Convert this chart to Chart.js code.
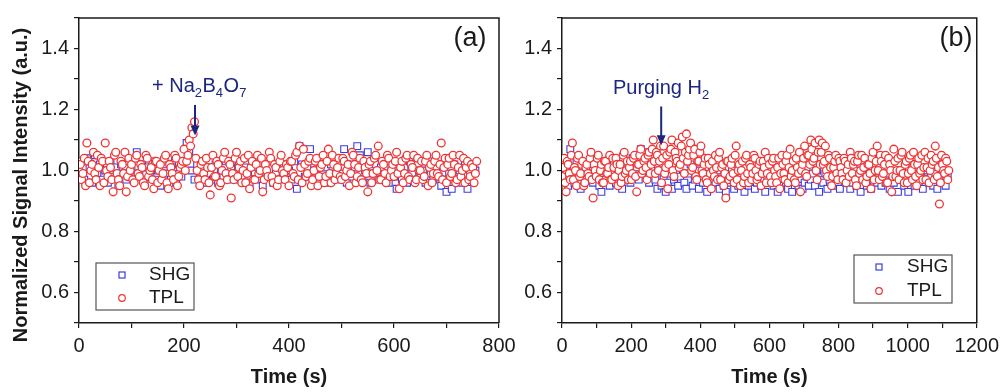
<!DOCTYPE html>
<html>
<head>
<meta charset="utf-8">
<script src="https://cdn.jsdelivr.net/npm/chart.js@4.4.1/dist/chart.umd.min.js"></script>
<style>
  body { margin: 0; background: #fff; }
  #wrap { position: relative; width: 1005px; height: 392px; }
  canvas { position: absolute; top: 0; }
  #chart-a { left: 0; }
  #chart-b { left: 500px; }
</style>
</head>
<body>
<div id="wrap">
  <canvas id="chart-a" width="530" height="392"></canvas>
  <canvas id="chart-b" width="505" height="392"></canvas>
</div>
<script>
// sampling interval (s) of each run; TPL has a second read half a step later
const stepA = 5;
const stepB = 6;

// panel (a): + Na2B4O7
const tplA = [
  1.00,0.97,1.04,1.09,0.96,1.02,0.99,1.05,0.95,1.03,1.09,0.98,1.01,0.93,1.06,0.97,1.03,0.99,0.93,1.04,
  1.02,0.96,1.05,0.98,1.01,0.95,1.04,1.00,0.97,1.03,0.96,1.02,0.99,1.05,0.94,1.01,0.97,1.04,0.98,1.02,
  1.07,1.03,1.10,1.14,1.16,1.00,0.95,1.03,0.97,1.01,0.92,1.05,0.98,1.02,0.96,1.04,0.99,1.03,0.91,0.97,
  1.06,1.01,0.96,1.04,0.99,0.94,1.03,0.97,1.05,1.00,0.93,1.02,0.98,1.04,0.96,1.01,0.97,1.05,0.99,1.02,
  0.95,1.03,0.98,1.06,1.08,0.96,1.02,0.99,1.04,0.97,1.03,0.95,1.01,1.05,0.98,1.07,0.96,1.02,0.99,1.04,
  0.97,1.03,1.00,0.95,1.06,1.02,0.98,1.04,0.96,1.01,0.93,1.03,0.99,1.05,1.08,0.97,1.02,0.96,1.04,1.00,
  0.98,1.06,0.94,1.03,0.99,1.05,0.97,1.01,0.96,1.04,1.00,0.97,1.03,0.95,1.02,0.99,1.05,0.98,1.09,1.01,
  0.96,1.04,0.99,1.02,0.97,1.05,1.00,0.96,1.03,0.98,1.01,0.99
];
const tplA2 = [
  1.02,0.99,0.95,1.03,1.00,1.06,0.97,1.01,1.04,0.96,1.00,1.03,0.97,1.05,0.99,0.95,1.02,1.06,0.98,1.00,
  0.97,1.04,0.99,1.02,0.96,1.05,0.98,1.01,0.94,1.03,1.00,0.97,1.04,0.96,1.02,0.99,1.05,0.95,1.01,1.03,
  1.00,1.05,1.08,1.12,1.04,0.97,1.02,0.99,1.04,0.96,1.01,0.98,1.03,0.95,1.00,1.06,0.97,1.02,0.99,1.04,
  0.98,1.03,1.00,0.96,1.05,1.01,0.97,1.02,0.99,1.04,0.97,1.00,1.06,0.98,1.02,0.95,1.03,1.00,0.97,1.01,
  1.03,0.99,1.05,0.97,1.01,1.07,0.98,1.03,0.95,1.00,1.04,0.98,1.02,0.96,1.03,0.99,1.05,0.97,1.01,0.98,
  1.04,0.98,1.02,0.99,1.05,0.96,1.01,0.97,1.03,0.99,1.02,0.96,1.04,1.00,0.97,1.03,0.99,1.05,0.98,1.02,
  1.03,0.99,1.01,0.96,1.04,0.98,1.02,1.05,0.97,1.00,1.03,0.98,1.05,1.01,0.96,1.03,0.99,1.02,0.97,1.04,
  1.02,0.98,1.05,0.96,1.01,0.98,1.04,1.01,0.97,1.02,0.96,1.03
];
const shgA = [
  0.98,1.03,0.97,1.04,1.01,0.96,1.05,0.99,1.02,0.97,1.00,0.96,1.03,0.98,1.01,0.95,1.02,0.99,0.97,1.03,
  1.00,0.97,1.06,0.99,1.02,0.96,1.01,0.98,1.03,0.97,1.00,0.95,1.02,0.99,1.04,0.97,1.01,0.96,1.02,0.98,
  1.03,1.09,1.06,1.00,0.97,1.02,0.98,1.03,0.96,1.01,0.99,0.97,1.02,0.96,1.00,0.98,1.03,0.97,1.01,0.99,
  0.97,1.02,0.98,1.01,0.96,0.96,1.03,0.99,0.97,1.02,0.95,1.00,0.98,1.03,0.96,0.99,1.01,0.97,1.02,0.98,
  1.00,0.97,1.03,0.94,1.08,1.02,0.98,1.01,1.07,0.97,1.00,0.96,1.03,0.98,1.01,0.96,1.02,0.99,0.97,1.03,
  0.99,1.07,0.96,1.02,0.98,1.01,1.08,1.05,0.97,1.00,1.06,0.96,0.99,1.02,0.97,1.01,0.98,1.03,0.96,1.00,
  0.98,0.94,1.02,0.97,1.01,0.96,1.03,0.99,0.97,1.02,0.98,1.00,0.96,1.03,0.99,0.97,1.01,0.98,0.95,1.02,
  0.93,0.99,0.94,1.02,0.97,1.00,0.96,1.03,0.94,0.99,1.02,1.00
];

// panel (b): purging H2
const tplB = [
  0.98,1.04,0.93,1.02,0.97,1.09,1.01,0.95,1.05,0.99,1.03,0.96,1.02,0.98,1.06,0.91,1.00,1.04,0.97,1.02,
  0.96,1.03,0.99,1.05,0.97,1.01,1.04,0.95,1.02,0.98,1.06,1.00,0.97,1.03,0.99,1.05,0.93,1.02,1.07,1.00,
  1.04,0.97,1.06,1.02,1.10,0.99,1.05,1.03,0.96,1.08,1.01,0.94,1.06,1.10,0.98,1.04,1.09,1.02,1.11,0.99,
  1.12,1.05,1.09,1.01,1.07,0.97,1.03,1.08,0.99,1.04,0.96,1.02,0.94,1.00,1.05,0.97,1.06,1.01,0.95,0.91,
  1.03,0.98,1.04,0.96,1.08,1.00,0.95,1.03,0.98,1.05,0.96,1.01,0.99,1.04,0.97,1.02,0.95,1.03,1.06,0.99,
  1.02,0.96,1.04,0.98,1.01,0.94,1.05,0.99,1.03,0.96,1.07,1.00,0.97,1.04,0.99,0.93,1.02,1.08,0.98,1.05,
  1.10,1.03,1.09,0.97,1.10,1.06,1.02,1.08,0.98,1.04,0.95,1.01,1.05,0.97,1.03,0.99,1.04,0.96,1.02,1.06,
  0.99,1.03,0.95,1.05,1.00,0.97,1.04,0.98,1.02,0.94,1.06,1.00,1.08,0.97,1.03,0.99,1.05,0.96,1.02,0.93,
  1.07,0.98,1.04,1.00,1.06,0.96,1.03,0.99,1.05,0.97,1.02,0.95,1.04,1.00,0.97,1.06,1.01,0.96,1.05,1.03,
  1.08,0.98,0.89,1.05,1.00,1.04,0.97
];
const tplB2 = [
  1.01,0.96,1.03,0.99,1.05,0.97,1.00,1.04,0.98,1.02,0.95,1.01,0.99,1.04,0.97,1.02,0.98,1.05,1.00,0.96,
  1.03,0.99,1.01,0.97,1.04,0.98,1.02,1.00,0.96,1.05,0.99,1.03,1.01,0.97,1.04,0.98,1.02,1.05,0.99,1.03,
  1.01,1.05,0.99,1.07,1.03,1.06,1.00,1.08,1.04,0.99,1.05,1.02,1.07,1.00,1.06,1.03,1.01,1.08,1.04,1.06,
  1.03,1.07,1.00,1.05,0.98,1.03,1.06,1.00,1.02,0.97,1.04,0.99,1.03,0.98,1.01,1.04,0.97,1.02,0.99,1.03,
  0.97,1.02,0.99,1.05,0.97,1.02,1.00,0.96,1.04,0.99,1.02,0.97,1.05,1.00,0.98,1.03,0.99,1.01,0.96,1.04,
  0.98,1.03,1.00,0.96,1.04,0.99,1.02,0.97,1.05,1.01,0.98,1.03,0.96,1.01,1.06,1.00,1.04,0.99,1.05,1.02,
  1.07,1.04,1.00,1.06,1.02,1.09,1.03,1.00,1.05,1.01,0.98,1.03,0.99,1.04,1.01,0.97,1.03,1.00,0.98,1.04,
  1.02,0.97,1.03,0.99,1.05,1.01,0.96,1.02,0.99,1.04,0.97,1.03,1.00,1.05,0.98,1.02,0.96,1.04,1.00,0.98,
  1.03,1.00,0.97,1.05,0.99,1.02,0.96,1.04,1.00,1.06,0.98,1.02,0.99,1.05,1.01,0.97,1.04,1.00,1.02,0.97,
  1.04,1.01,0.96,1.02,0.99,1.03,1.00
];
const shgB = [
  1.02,0.97,1.00,0.95,1.07,0.99,0.96,1.03,0.98,0.94,1.01,0.97,1.02,0.99,1.05,0.96,0.98,1.01,0.95,0.93,
  1.00,0.97,1.02,0.95,0.99,1.03,0.96,1.01,0.98,0.94,1.00,0.97,1.02,0.96,1.04,0.98,1.01,0.97,1.07,1.05,
  1.06,1.03,0.96,1.01,0.98,0.97,0.94,1.00,0.95,0.98,0.93,0.96,0.99,0.94,0.97,1.00,0.95,0.98,1.03,0.96,
  0.94,0.99,1.02,0.95,0.97,1.00,0.94,0.98,0.96,1.01,0.93,0.97,0.95,0.99,0.96,1.00,0.94,0.97,0.95,0.93,
  0.98,0.96,1.00,0.94,0.97,0.95,0.99,0.96,0.93,0.98,0.95,0.97,1.00,0.94,0.96,0.99,0.95,0.97,0.93,0.98,
  0.96,1.00,0.95,0.98,0.93,0.97,0.95,0.99,0.96,0.94,0.98,0.93,0.97,1.00,0.95,0.99,0.94,0.96,0.98,0.95,
  0.97,0.99,0.95,1.00,0.93,0.97,0.96,0.99,0.94,0.97,1.01,0.95,0.98,0.96,0.94,0.99,1.02,0.96,0.98,0.94,
  0.96,1.00,0.95,0.98,0.93,0.97,1.01,0.95,0.99,0.94,0.97,1.00,0.96,0.98,0.95,1.03,0.96,0.99,0.94,0.97,
  0.96,0.99,0.93,0.97,1.00,0.95,0.98,0.93,0.97,1.01,0.95,0.98,0.96,0.99,0.94,0.97,1.00,0.96,0.98,0.95,
  0.99,0.94,0.97,1.02,0.99,0.95,0.98
];

const FONT = "'Liberation Sans', Arial, Helvetica, sans-serif";
const RED = '#ee3434';
const BLUE = '#3c3cdc';
const NAVY = '#1c2680';
const INK = '#1a1a1a';

Chart.defaults.font.family = FONT;
Chart.defaults.color = INK;

function toPoints(values, step) {
  return values.map((v, i) => ({ x: i * step, y: v }));
}

// two reads per step, second one half a step later, kept in time order
function interleave(first, second, step) {
  const pts = [];
  first.forEach((v, i) => {
    pts.push({ x: i * step, y: v });
    if (i < second.length) pts.push({ x: i * step + step / 2, y: second[i] });
  });
  return pts;
}

// draws text pieces, 'sub' pieces are smaller and lowered
function drawRich(ctx, x, y, parts) {
  ctx.textBaseline = 'alphabetic';
  ctx.textAlign = 'left';
  parts.forEach(([txt, kind]) => {
    const sub = kind === 'sub';
    ctx.font = (sub ? '13px ' : '20px ') + FONT;
    ctx.fillText(txt, x, y + (sub ? 5 : 0));
    x += ctx.measureText(txt).width + (sub ? 0.5 : 0);
  });
}

const decor = {
  id: 'decor',
  afterDraw(chart, args, o) {
    const ctx = chart.ctx;
    const a = chart.chartArea;
    const xs = chart.scales.x, ys = chart.scales.y;
    ctx.save();

    // top and right frame
    ctx.strokeStyle = INK;
    ctx.lineWidth = 1.5;
    ctx.beginPath();
    ctx.moveTo(a.left, a.top);
    ctx.lineTo(a.right, a.top);
    ctx.lineTo(a.right, a.bottom);
    ctx.stroke();

    // panel tag
    ctx.fillStyle = INK;
    ctx.font = '27px ' + FONT;
    ctx.textAlign = 'center';
    ctx.textBaseline = 'middle';
    ctx.fillText(o.tag, o.tagX, o.tagY);

    // y title
    if (o.yTitle) {
      ctx.save();
      ctx.translate(21, 185);
      ctx.rotate(-Math.PI / 2);
      ctx.font = 'bold 20px ' + FONT;
      ctx.textAlign = 'center';
      ctx.textBaseline = 'middle';
      ctx.fillText(o.yTitle, 0, 0);
      ctx.restore();
    }

    // annotation with arrow
    ctx.fillStyle = NAVY;
    drawRich(ctx, o.noteX, o.noteY, o.note);
    const ax = xs.getPixelForValue(o.arrowT);
    const y0 = ys.getPixelForValue(o.arrowFrom);
    const y1 = ys.getPixelForValue(o.arrowTo);
    ctx.strokeStyle = NAVY;
    ctx.lineWidth = 2;
    ctx.beginPath();
    ctx.moveTo(ax, y0);
    ctx.lineTo(ax, y1 - 8);
    ctx.stroke();
    ctx.beginPath();
    ctx.moveTo(ax - 4.5, y1 - 10);
    ctx.lineTo(ax + 4.5, y1 - 10);
    ctx.lineTo(ax, y1);
    ctx.closePath();
    ctx.fill();

    // legend box
    const L = o.legend;
    ctx.fillStyle = '#fff';
    ctx.fillRect(L.x, L.y, L.w, L.h);
    ctx.strokeStyle = '#555';
    ctx.lineWidth = 1.2;
    ctx.strokeRect(L.x, L.y, L.w, L.h);
    ctx.strokeStyle = BLUE;
    ctx.strokeRect(L.mx - 3, L.my1 - 3, 6, 6);
    ctx.strokeStyle = RED;
    ctx.beginPath();
    ctx.arc(L.mx, L.my2, 3.3, 0, Math.PI * 2);
    ctx.stroke();
    ctx.fillStyle = INK;
    ctx.font = '19px ' + FONT;
    ctx.textAlign = 'left';
    ctx.textBaseline = 'middle';
    chart.data.datasets.forEach((ds, i) => {
      ctx.fillText(ds.label, L.tx, i === 0 ? L.my1 : L.my2);
    });
    ctx.restore();
  }
};

function makeChart(id, shgPts, tplPts, xMax, yWidth, padRight, decorOpts) {
  return new Chart(document.getElementById(id), {
    type: 'scatter',
    data: {
      datasets: [
        {
          label: 'SHG',
          data: shgPts,
          pointStyle: 'rect',
          pointRadius: 4.8,
          pointBorderWidth: 1.1,
          borderColor: BLUE,
          backgroundColor: '#fff',
          order: 2
        },
        {
          label: 'TPL',
          data: tplPts,
          pointStyle: 'circle',
          pointRadius: 3.9,
          pointBorderWidth: 1.3,
          borderColor: RED,
          backgroundColor: '#fff',
          order: 1
        }
      ]
    },
    options: {
      responsive: false,
      animation: false,
      devicePixelRatio: 1,
      layout: { padding: { left: 0, top: 18, right: padRight, bottom: 0 } },
      plugins: {
        legend: { display: false },
        tooltip: { enabled: false },
        decor: decorOpts
      },
      scales: {
        x: {
          type: 'linear',
          min: 0,
          max: xMax,
          afterFit: s => { s.height = 69; },
          border: { color: INK, width: 1.5 },
          grid: { drawOnChartArea: false, drawTicks: true, tickLength: 5, color: INK, lineWidth: 1.2 },
          ticks: {
            stepSize: 100,
            padding: 6,
            maxRotation: 0,
            autoSkip: false,
            font: { size: 20 },
            color: INK,
            callback: v => (v % 200 === 0 ? String(v) : '')
          },
          title: {
            display: true,
            text: 'Time (s)',
            font: { size: 20, weight: 'bold' },
            color: INK,
            padding: { top: 0, bottom: 3 }
          }
        },
        y: {
          min: 0.5,
          max: 1.5,
          afterFit: s => { s.width = yWidth; },
          border: { color: INK, width: 1.5 },
          grid: { drawOnChartArea: false, drawTicks: true, tickLength: 5, color: INK, lineWidth: 1.2 },
          ticks: {
            stepSize: 0.1,
            padding: 5,
            autoSkip: false,
            font: { size: 20 },
            color: INK,
            callback: v => {
              const k = Math.round(v * 10);
              return (k % 2 === 0 && k > 5 && k < 15) ? (k / 10).toFixed(1) : '';
            }
          }
        }
      }
    },
    plugins: [decor]
  });
}

makeChart('chart-a', toPoints(shgA, stepA), interleave(tplA, tplA2, stepA), 800, 79, 31, {
  tag: '(a)', tagX: 470, tagY: 39,
  yTitle: 'Normalized Signal Intensity (a.u.)',
  note: [['+ Na', 'main'], ['2', 'sub'], ['B', 'main'], ['4', 'sub'], ['O', 'main'], ['7', 'sub']],
  noteX: 152, noteY: 92,
  arrowT: 221, arrowFrom: 1.215, arrowTo: 1.115,
  legend: { x: 96, y: 263, w: 98, h: 47, mx: 122, my1: 275, my2: 298, tx: 149 }
});

makeChart('chart-b', toPoints(shgB, stepB), interleave(tplB, tplB2, stepB), 1200, 62, 26, {
  tag: '(b)', tagX: 456, tagY: 39,
  yTitle: null,
  note: [['Purging H', 'main'], ['2', 'sub']],
  noteX: 113, noteY: 94,
  arrowT: 287, arrowFrom: 1.21, arrowTo: 1.083,
  legend: { x: 354, y: 255, w: 98, h: 48, mx: 379, my1: 267, my2: 291, tx: 407 }
});
</script>
</body>
</html>
